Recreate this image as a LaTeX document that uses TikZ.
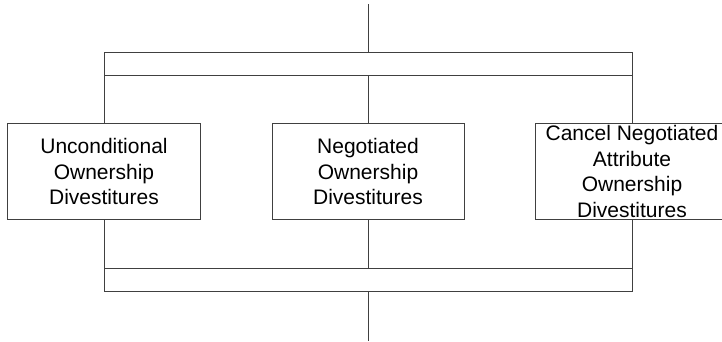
\documentclass[tikz,border=0pt]{standalone}
\usepackage{fontspec}
\setmainfont{Liberation Sans}
\begin{document}
\begin{tikzpicture}[x=1pt,y=1pt,
  line/.style={draw=black!75,line width=0.9pt},
  bar/.style={line,rectangle,minimum width=528pt,minimum height=23.5pt,inner sep=0pt,outer sep=0pt},
  box/.style={line,rectangle,minimum width=193pt,minimum height=95.5pt,inner sep=0pt,outer sep=0pt,align=center,
    font=\fontsize{21}{25.5}\selectfont}]
\clip (0,0) rectangle (722,-341);
\coordinate (top) at (368,-4);
\coordinate (bot) at (368,-341);
\node[bar] (topbar) at (368,-64) {};
\node[bar] (botbar) at (368,-280) {};
\node[box] (L) at (104,-171.6) {Unconditional\\Ownership\\Divestitures};
\node[box,minimum width=192pt] (M) at (368,-171.6) {Negotiated\\Ownership\\Divestitures};
\node[box] (R) at (632,-171.6) {Cancel Negotiated\\Attribute\\Ownership\\Divestitures};
\draw[line] (top) -- (topbar.north);
\draw[line] (topbar.south west) -- (L.north);
\draw[line] (topbar.south) -- (M.north);
\draw[line] (topbar.south east) -- (R.north);
\draw[line] (L.south) -- (botbar.north west);
\draw[line] (M.south) -- (botbar.north);
\draw[line] (R.south) -- (botbar.north east);
\draw[line] (botbar.south) -- (bot);
\end{tikzpicture}
\end{document}
